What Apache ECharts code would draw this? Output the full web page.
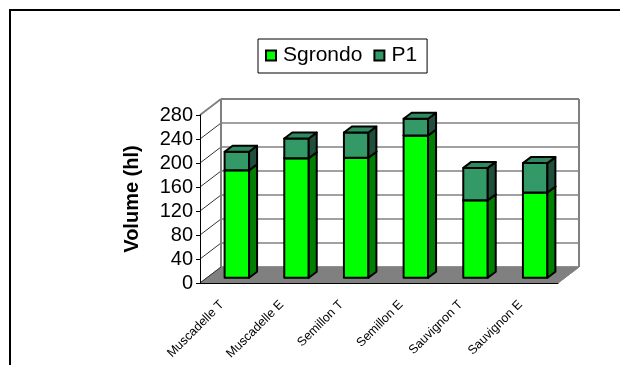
<!DOCTYPE html>
<html>
<head>
<meta charset="utf-8">
<script src="https://cdn.jsdelivr.net/npm/echarts@6/dist/echarts.min.js"></script>
<style>
  html, body { margin: 0; padding: 0; background: #fff; }
  #chart { width: 620px; height: 365px; }
</style>
</head>
<body>
<div id="chart"></div>
<script>
// data
const categories = ['Muscadelle T', 'Muscadelle E', 'Semillon T', 'Semillon E', 'Sauvignon T', 'Sauvignon E'];
const sgrondo = [179, 199, 200, 237, 129, 142];
const p1 = [31, 33, 42, 28, 54, 49];
const yTicks = [0, 40, 80, 120, 160, 200, 240, 280];

const font = 'Liberation Sans, Arial, sans-serif';
// 3d look: full depth of the walls, bar front offset and bar depth
const DX = 21, DY = -16;
const FX = 7, FY = -5.3;
const BX = 8, BY = -6;

const chart = echarts.init(document.getElementById('chart'));

function renderFrame(params, api) {
    const cw = api.size([1, 0])[0];
    const left = api.coord([0, 0])[0] - cw / 2;
    const right = api.coord([categories.length - 1, 0])[0] + cw / 2;
    const y0 = api.coord([0, 0])[1];
    const yTop = api.coord([0, yTicks[yTicks.length - 1]])[1];
    const children = [{
        type: 'polygon',
        shape: { points: [[left, y0], [right, y0], [right + DX, y0 + DY], [left + DX, y0 + DY]] },
        style: { fill: '#808080', stroke: '#808080', lineWidth: 1 }
    }];
    yTicks.forEach(function (t, k) {
        const y = api.coord([0, t])[1];
        const top = k === yTicks.length - 1;
        children.push({
            type: 'line',
            shape: { x1: left + DX, y1: y + DY, x2: right + DX, y2: y + DY },
            style: { stroke: '#808080', lineWidth: top ? 2 : 1.5 }
        });
        children.push({
            type: 'line',
            shape: { x1: left, y1: y, x2: left + DX, y2: y + DY },
            style: { stroke: top ? '#808080' : '#333', lineWidth: top ? 2 : 1 }
        });
    });
    children.push({
        type: 'line',
        shape: { x1: left + DX, y1: yTop + DY, x2: left + DX, y2: y0 + DY },
        style: { stroke: '#808080', lineWidth: 2 }
    });
    children.push({
        type: 'line',
        shape: { x1: right + DX, y1: yTop + DY, x2: right + DX, y2: y0 + DY },
        style: { stroke: '#808080', lineWidth: 2 }
    });
    children.push({
        type: 'line',
        shape: { x1: right, y1: y0, x2: right + DX, y2: y0 + DY },
        style: { stroke: '#808080', lineWidth: 1 }
    });
    return { type: 'group', children: children };
}

function barRenderer(front, side, topc) {
    return function (params, api) {
        const pb = api.coord([api.value(0), api.value(1)]);
        const pt = api.coord([api.value(0), api.value(2)]);
        const w = api.size([1, 0])[0] * 0.41;
        const x0 = pb[0] - w / 2 + FX, x1 = x0 + w;
        const yb = pb[1] + FY, yt = pt[1] + FY;
        const st = { stroke: '#000', lineWidth: 2, lineJoin: 'round' };
        return {
            type: 'group',
            children: [
                { type: 'polygon', shape: { points: [[x0, yb], [x1, yb], [x1, yt], [x0, yt]] },
                  style: Object.assign({ fill: front }, st) },
                { type: 'polygon', shape: { points: [[x1, yb], [x1 + BX, yb + BY], [x1 + BX, yt + BY], [x1, yt]] },
                  style: Object.assign({ fill: side }, st) },
                { type: 'polygon', shape: { points: [[x0, yt], [x1, yt], [x1 + BX, yt + BY], [x0 + BX, yt + BY]] },
                  style: Object.assign({ fill: topc }, st) }
            ]
        };
    };
}

const sgrondoData = categories.map(function (c, i) { return [i, 0, sgrondo[i]]; });
const p1Data = categories.map(function (c, i) { return [i, sgrondo[i], sgrondo[i] + p1[i]]; });

chart.setOption({
    animation: false,
    textStyle: { fontFamily: font },
    graphic: [{
        type: 'rect',
        silent: true,
        shape: { x: 10, y: 10, width: 700, height: 500 },
        style: { fill: null, stroke: '#000', lineWidth: 2 }
    }],
    legend: {
        data: ['Sgrondo', 'P1'],
        left: 258,
        top: 39,
        padding: [6, 10, 7, 7],
        itemGap: 11,
        itemWidth: 10,
        itemHeight: 10,
        icon: 'rect',
        borderColor: '#000',
        borderWidth: 1,
        itemStyle: { borderColor: '#000', borderWidth: 2 },
        textStyle: { fontSize: 21, color: '#000', fontFamily: font, padding: [0, 0, 0, 2] }
    },
    grid: { left: 200, top: 115, width: 358, height: 168, outerBoundsMode: 'none' },
    xAxis: {
        type: 'category',
        data: categories,
        z: 5,
        axisLine: { lineStyle: { color: '#000', width: 1 } },
        axisTick: { length: 5, lineStyle: { color: '#000' } },
        axisLabel: {
            rotate: 45, interval: 0, fontSize: 12.5, color: '#000', margin: 12,
            padding: [0, 11, 0, 0], fontFamily: font
        }
    },
    yAxis: {
        type: 'value',
        min: 0,
        max: 280,
        interval: 40,
        z: 5,
        axisLine: { show: true, lineStyle: { color: '#000', width: 1 } },
        axisTick: { show: true, length: 4, lineStyle: { color: '#000' } },
        axisLabel: { fontSize: 20, color: '#000', margin: 7, fontFamily: font },
        splitLine: { show: false },
        name: 'Volume (hl)',
        nameLocation: 'middle',
        nameRotate: 90,
        nameGap: 58,
        nameTextStyle: { fontSize: 20, fontWeight: 'bold', color: '#000', fontFamily: font }
    },
    series: [
        {
            name: 'frame',
            type: 'custom',
            z: 1,
            silent: true,
            renderItem: renderFrame,
            data: [[0, 0]]
        },
        {
            name: 'Sgrondo',
            type: 'custom',
            z: 2,
            itemStyle: { color: '#00ff00' },
            renderItem: barRenderer('#00ff00', '#008000', '#00cc00'),
            encode: { x: 0, y: [1, 2] },
            data: sgrondoData
        },
        {
            name: 'P1',
            type: 'custom',
            z: 3,
            itemStyle: { color: '#339966' },
            renderItem: barRenderer('#339966', '#1f4f3a', '#2e8a5c'),
            encode: { x: 0, y: [1, 2] },
            data: p1Data
        }
    ]
});
</script>
</body>
</html>
